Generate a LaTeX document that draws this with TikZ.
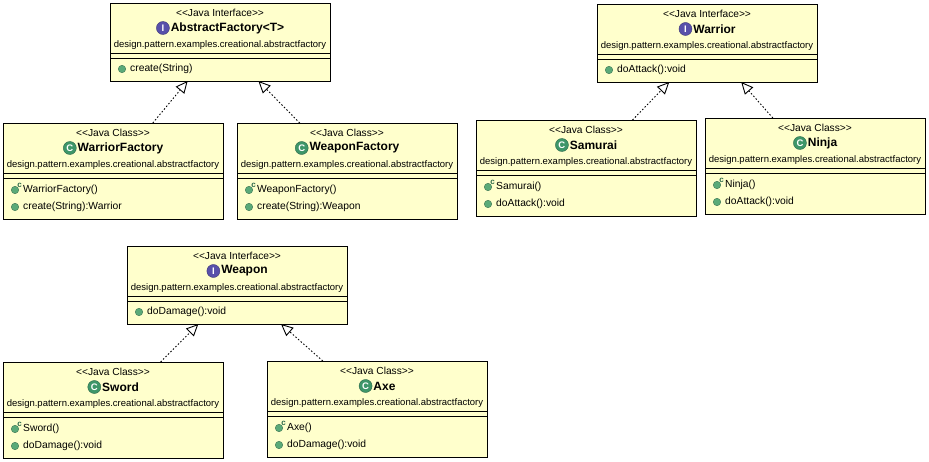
\documentclass[tikz,border=0pt]{standalone}
\usepackage{fontspec}
\setmainfont{Liberation Sans}
\usepackage{xcolor}
\definecolor{umlyellow}{RGB}{255,255,204}
\definecolor{umlpurple}{RGB}{88,80,170}
\definecolor{umlgreen}{RGB}{62,150,105}
\definecolor{umlop}{RGB}{90,170,120}
\usetikzlibrary{arrows.meta, calc}
\tikzset{
  umlbox/.style={draw=black, fill=umlyellow, line width=0.9pt, inner sep=0pt, outer sep=0pt,
      minimum width=220pt, anchor=north west},
  umlstereo/.style={inner sep=0pt, font=\fontsize{10.2}{11}\selectfont},
  umlpack/.style={inner sep=0pt, font=\fontsize{9.5}{10}\selectfont},
  umlmember/.style={inner sep=0pt, font=\fontsize{10.3}{11}\selectfont},
  umlname/.style={inner sep=0pt, font=\fontsize{12}{13}\selectfont\bfseries},
  umlicon/.style={circle, inner sep=0pt, minimum size=13pt, draw=#1!70!black, fill=#1, text=white,
      font=\fontsize{9.5}{9.5}\selectfont\bfseries},
  umlopdot/.style={circle, inner sep=0pt, minimum size=7.5pt, draw=umlop!70!black, fill=umlop},
  umlctor/.style={inner sep=0pt, text=umlgreen!70!black, font=\fontsize{8}{8}\selectfont\bfseries},
  implements/.style={dash pattern=on 1.5pt off 2pt, line width=0.9pt, -{Triangle[open, fill=white, length=12pt, width=11pt]}}
}
% #1 name, #2 x, #3 y, #4 height, #5 stereotype, #6 icon colour, #7 icon letter, #8 title
\newcommand{\umlclassbox}[8]{
  \node[umlbox, minimum height=#4pt] (#1) at (#2,#3) {};
  \draw[line width=0.9pt] ($(#1.north west)+(0,50)$) -- ($(#1.north east)+(0,50)$);
  \draw[line width=0.9pt] ($(#1.north west)+(0,55)$) -- ($(#1.north east)+(0,55)$);
  \node[umlstereo] (#1stereo) at ($(#1.north)+(0,9.5)$) {<{}<Java #5>{}>};
  \node[umlname] (#1title) at ($(#1.north)+(7.5,25)$) {#8};
  \node[umlicon=#6, left=1pt] (#1icon) at (#1title.west) {#7};
  \node[umlpack] (#1pack) at ($(#1.north)+(0,42)$) {design.pattern.examples.creational.abstractfactory};
}
% #1 name, #2 box, #3 row offset, #4 text
\newcommand{\umlmethod}[4]{
  \node[umlopdot] (#1dot) at ($(#2.north west)+(12,#3)$) {};
  \node[umlmember, anchor=west] (#1) at ($(#2.north west)+(20,#3-0.5)$) {#4};
}
\newcommand{\umlctormethod}[4]{
  \umlmethod{#1}{#2}{#3}{#4}
  \node[umlctor] (#1c) at ($(#2.north west)+(16.5,#3-5)$) {c};
}

\begin{document}
\begin{tikzpicture}[x=1pt, y=-1pt]
\useasboundingbox (0,0) rectangle (929,462);

% Abstract factory
\umlclassbox{factory}{110}{3}{78}{Interface}{umlpurple}{I}{AbstractFactory<T>}
\umlmethod{factorycreate}{factory}{66}{create(String)}

\umlclassbox{warriorfactory}{3}{123}{96}{Class}{umlgreen}{C}{WarriorFactory}
\umlctormethod{warriorfactoryctor}{warriorfactory}{67}{WarriorFactory()}
\umlmethod{warriorfactorycreate}{warriorfactory}{84}{create(String):Warrior}

\umlclassbox{weaponfactory}{237}{123}{96}{Class}{umlgreen}{C}{WeaponFactory}
\umlctormethod{weaponfactoryctor}{weaponfactory}{67}{WeaponFactory()}
\umlmethod{weaponfactorycreate}{weaponfactory}{84}{create(String):Weapon}

\draw[implements] (warriorfactory) -- (factory);
\draw[implements] (weaponfactory) -- (factory);

% Warrior
\umlclassbox{warrior}{597}{4}{78}{Interface}{umlpurple}{I}{Warrior}
\umlmethod{warriorattack}{warrior}{66}{doAttack():void}

\umlclassbox{samurai}{476}{120}{96}{Class}{umlgreen}{C}{Samurai}
\umlctormethod{samuraictor}{samurai}{67}{Samurai()}
\umlmethod{samuraiattack}{samurai}{84}{doAttack():void}

\umlclassbox{ninja}{705}{118}{96}{Class}{umlgreen}{C}{Ninja}
\umlctormethod{ninjactor}{ninja}{67}{Ninja()}
\umlmethod{ninjaattack}{ninja}{84}{doAttack():void}

\draw[implements] (samurai) -- (warrior);
\draw[implements] (ninja) -- (warrior);

% Weapon
\umlclassbox{weapon}{127}{246}{78}{Interface}{umlpurple}{I}{Weapon}
\umlmethod{weapondamage}{weapon}{66}{doDamage():void}

\umlclassbox{sword}{3}{362}{96}{Class}{umlgreen}{C}{Sword}
\umlctormethod{swordctor}{sword}{67}{Sword()}
\umlmethod{sworddamage}{sword}{84}{doDamage():void}

\umlclassbox{axe}{267}{361}{96}{Class}{umlgreen}{C}{Axe}
\umlctormethod{axector}{axe}{67}{Axe()}
\umlmethod{axedamage}{axe}{84}{doDamage():void}

\draw[implements] (sword) -- (weapon);
\draw[implements] (axe) -- (weapon);

\end{tikzpicture}
\end{document}
